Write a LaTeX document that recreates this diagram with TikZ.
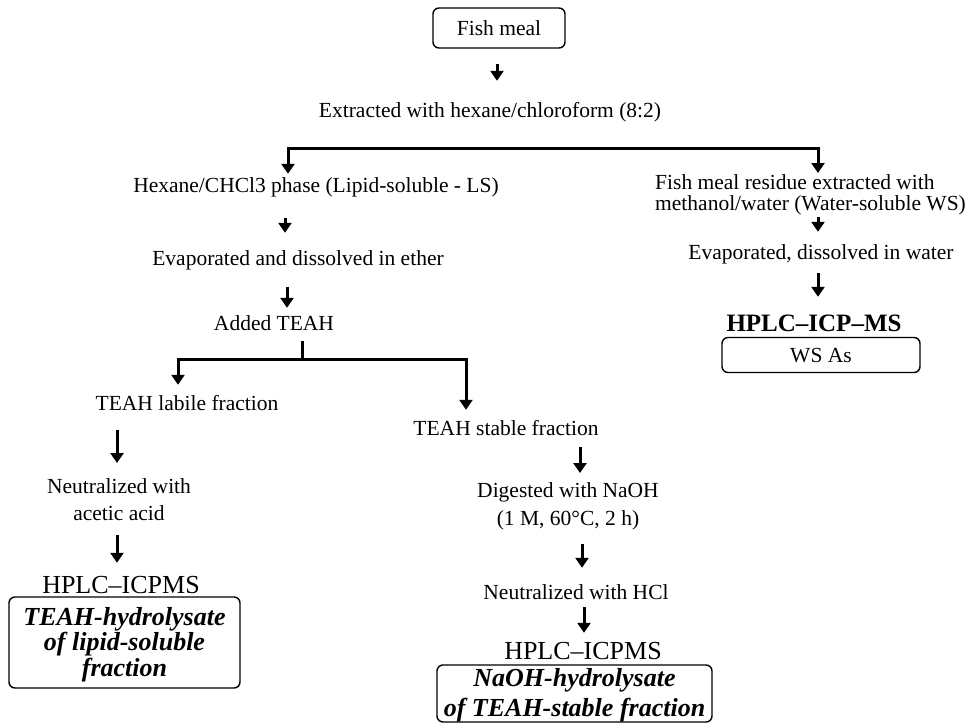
\documentclass[tikz,border=0pt]{standalone}
\usepackage{fontspec}
\setmainfont{Liberation Serif}
\usetikzlibrary{arrows.meta}

\begin{document}
\begin{tikzpicture}[x=1pt,y=-1pt,
  txt/.style={inner sep=1pt,align=center,font=\fontsize{21.5}{27}\selectfont,
              text height=17.5pt,text depth=2.5pt},
  txtm/.style={inner sep=1pt,align=center,font=\fontsize{21.5}{27}\selectfont},
  big/.style={inner sep=1pt,font=\fontsize{26}{30}\selectfont,text height=18pt,text depth=0pt},
  box/.style={draw,line width=1.4pt,rounded corners=6pt,align=center},
  res/.style={box,inner sep=0pt,font=\fontsize{26}{25.5}\selectfont\bfseries\itshape},
  ln/.style={line width=3pt,line cap=rect},
  arr/.style={-{Triangle[length=10pt,width=13pt]},line width=3pt}
]
\useasboundingbox (0,0) rectangle (975,725);
\node[txt,box,minimum width=132pt,minimum height=40pt] (fish) at (499,28) {Fish meal};
\node[txt] (ext) at (490,110) {Extracted with hexane/chloroform (8:2)};
\node[txt] (hex) at (316,185) {Hexane/CHCl3 phase (Lipid-soluble - LS)};
\node[txtm,anchor=north west,align=left,font=\fontsize{21.5}{21}\selectfont] (resid) at (654,173)
  {Fish meal residue extracted with\\methanol/water (Water-soluble WS)};
\node[txt] (evapR) at (821,252) {Evaporated, dissolved in water};
\node[big,font=\fontsize{25}{30}\selectfont\bfseries] (hplcR) at (814,322) {HPLC--ICP--MS};
\node[txt,box,minimum width=198pt,minimum height=35pt] (ws) at (821,355) {WS As};
\node[txt] (evapL) at (298,258) {Evaporated and dissolved in ether};
\node[txt] (added) at (274,323) {Added TEAH};
\node[txt] (labile) at (187,403) {TEAH labile fraction};
\node[txtm,anchor=north] (neutL) at (119,477) {Neutralized with\\acetic acid};
\node[big] (hplcL) at (121,584) {HPLC--ICPMS};
\node[res,minimum width=231pt,minimum height=91pt] (lsres) at (124.5,642.5)
  {\rule{0pt}{22pt}TEAH-hydrolysate\\of lipid-soluble\\fraction};
\node[txt] (stable) at (506,428) {TEAH stable fraction};
\node[txtm,anchor=north,font=\fontsize{21.5}{28}\selectfont] (dig) at (568,481)
  {Digested with NaOH\\(1 M, 60°C, 2 h)};
\node[txt] (neutM) at (576,592) {Neutralized with HCl};
\node[big] (hplcM) at (583,650) {HPLC--ICPMS};
\node[res,font=\fontsize{26}{30}\selectfont\bfseries\itshape,minimum width=275pt,minimum height=57pt]
  (stres) at (574.5,693.5) {\rule{0pt}{21pt}NaOH-hydrolysate\\of TEAH-stable fraction};
\coordinate (brL) at (288,148);
\coordinate (brR) at (818,148);
\coordinate (tee) at (302,359);
\draw[arr,shorten <=15pt,shorten >=18pt] ([xshift=-2pt]fish.south) -- ([xshift=-2pt]fish.south |- ext.north);
\draw[ln] (brL) -- (brR);
\draw[arr] (brL) -- (brL |- hex.north);
\draw[arr] (brR) -- (brR |- resid.north);
\draw[arr,shorten <=22pt,shorten >=14pt] ([xshift=-31pt]hex.south) -- ([xshift=-31pt]hex.south |- evapL.north);
\draw[arr,shorten <=18pt,shorten >=4pt] ([xshift=-11pt]evapL.south) -- ([xshift=-11pt]evapL.south |- added.north);
\draw[ln,shorten <=8pt] ([xshift=28pt]added.south) -- (tee);
\draw[arr,shorten >=7pt] (tee) -| ([xshift=-9pt]labile.north);
\draw[arr,shorten >=7pt] (tee) -| ([xshift=-40pt]stable.north);
\draw[arr,shorten <=1pt,shorten >=9pt] (brR |- resid.south) -- (brR |- evapR.north);
\draw[arr,shorten <=10pt,shorten >=15pt] (brR |- evapR.south) -- (brR |- hplcR.north);
\draw[arr,shorten <=16pt,shorten >=14pt] ([xshift=-70pt]labile.south) -- ([xshift=-70pt]labile.south |- neutL.north);
\draw[arr,shorten <=13pt,shorten >=11pt] ([xshift=-2pt]neutL.south) -- ([xshift=-2pt]neutL.south |- hplcL.north);
\draw[arr,shorten <=8pt,shorten >=8pt] ([xshift=74pt]stable.south) -- ([xshift=74pt]stable.south |- dig.north);
\draw[arr,shorten <=13pt,shorten >=13pt] ([xshift=14pt]dig.south) -- ([xshift=14pt]dig.south |- neutM.north);
\draw[arr,shorten <=4pt,shorten >=7pt] ([xshift=8pt]neutM.south) -- ([xshift=8pt]neutM.south |- hplcM.north);
\end{tikzpicture}
\end{document}
